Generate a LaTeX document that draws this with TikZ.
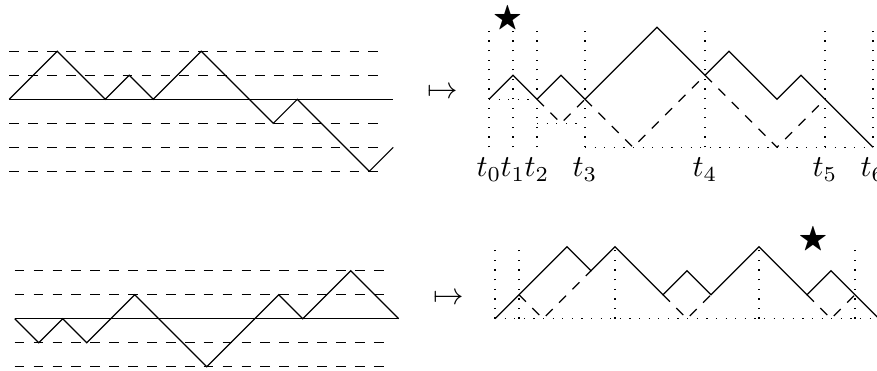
\documentclass[tikz,border=0pt]{standalone}
\usepackage{amssymb}
\tikzset{
  px/.style={x=0.328pt,y=-0.328pt},
  unitgrid/.style={x=7.872pt,y=7.872pt},
  guide/.style={line width=0.4pt, dash pattern=on 3.2pt off 3pt},
  dotline/.style={line width=0.4pt, dash pattern=on 0.4pt off 2.75pt},
  refl/.style={line width=0.4pt, dash pattern=on 3.2pt off 3pt},
  walk/.style={line width=0.4pt},
  lab/.style={anchor=base, inner sep=0pt},
  mark star/.style={inner sep=0pt},
}
\begin{document}
\begin{tikzpicture}[px]
\useasboundingbox (0,0) rectangle (877,370);

% ---------- top left ----------
\begin{scope}[shift={(9.3,99.3)},unitgrid]
  \foreach \l in {2,1,-1,-2,-3} \draw[guide] (0,\l) -- (15.6,\l);
  \draw[walk] (0,0) -- (16,0);
  \draw[walk] (0,0) -- (2,2) -- (4,0) -- (5,1) -- (6,0) -- (8,2) -- (11,-1) -- (12,0) -- (15,-3) -- (16,-2);
\end{scope}

\node (m1) at (443,92.7) {$\mapsto$};

% ---------- top right ----------
\begin{scope}[shift={(489,99.3)},unitgrid]
  \foreach \t in {0,1,2,4,9,14,16} \draw[dotline] (\t,-2) -- (\t,3);
  \draw[dotline] (0,0) -- (2,0);
  \draw[dotline] (2,-1) -- (4,-1);
  \draw[dotline] (4,-2) -- (16,-2);
  \draw[walk] (0,0) -- (1,1) -- (2,0) -- (3,1) -- (4,0) -- (7,3) -- (9,1) -- (10,2) -- (12,0) -- (13,1) -- (16,-2);
  \draw[refl] (2,0) -- (3,-1) -- (4,0);
  \draw[refl] (4,0) -- (6,-2) -- (9,1);
  \draw[refl] (9,1) -- (12,-2) -- (14,0);
  \node[lab] (t0) at (0,-3.225) {$t_0$};
  \node[lab] (t1) at (1,-3.225) {$t_1$};
  \node[lab] (t2) at (2,-3.225) {$t_2$};
  \node[lab] (t3) at (4,-3.225) {$t_3$};
  \node[lab] (t4) at (9,-3.225) {$t_4$};
  \node[lab] (t5) at (14,-3.225) {$t_5$};
  \node[lab] (t6) at (16,-3.225) {$t_6$};
  \node[mark star] (s1) at (0.77,3.37) {$\bigstar$};
\end{scope}

% ---------- bottom left ----------
\begin{scope}[shift={(14.7,318.7)},unitgrid]
  \foreach \l in {2,1,-1,-2} \draw[guide] (0,\l) -- (15.6,\l);
  \draw[walk] (0,0) -- (16,0);
  \draw[walk] (0,0) -- (1,-1) -- (2,0) -- (3,-1) -- (5,1) -- (8,-2) -- (11,1) -- (12,0) -- (14,2) -- (16,0);
\end{scope}

\node (m2) at (449,299) {$\mapsto$};

% ---------- bottom right ----------
\begin{scope}[shift={(495,318.7)},unitgrid]
  \foreach \t in {0,1,5,11,15} \draw[dotline] (\t,0) -- (\t,3);
  \draw[dotline] (0,0) -- (16,0);
  \draw[walk] (0,0) -- (3,3) -- (4,2) -- (5,3) -- (7,1) -- (8,2) -- (9,1) -- (11,3) -- (13,1) -- (14,2) -- (16,0);
  \draw[refl] (1,1) -- (2,0) -- (4,2);
  \draw[refl] (7,1) -- (8,0) -- (9,1);
  \draw[refl] (13,1) -- (14,0) -- (15,1);
  \node[mark star] (s2) at (13.25,3.29) {$\bigstar$};
\end{scope}
\end{tikzpicture}
\end{document}
